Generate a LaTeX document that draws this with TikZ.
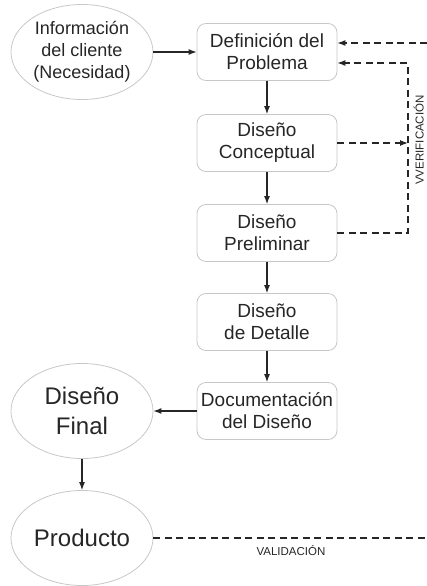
\documentclass[tikz,border=0pt]{standalone}
\usepackage{fontspec}
\setmainfont{Liberation Sans}
\usetikzlibrary{arrows.meta,shapes.geometric}
\begin{document}
\begin{tikzpicture}[x=1pt,y=-1pt,
 box/.style={draw=black!22, line width=0.8pt, rounded corners=9pt, minimum width=140pt, minimum height=57pt, align=center, text=black!85, font=\fontsize{19}{22}\selectfont, inner sep=2pt},
 oval/.style={ellipse, draw=black!22, line width=0.8pt, align=center, text=black!85, minimum width=142pt, minimum height=95pt, inner sep=0pt},
 arr/.style={draw=black!85, line width=1.2pt, -{Latex[length=8pt,width=6pt]}},
 darr/.style={arr, dash pattern=on 7pt off 4.5pt},
 dline/.style={draw=black!85, line width=1.2pt, dash pattern=on 7pt off 4.5pt},
 small/.style={font=\fontsize{11.5}{13}\selectfont, text=black!85}]
\useasboundingbox (0,0) rectangle (427,586);
\node[oval, font=\fontsize{18}{22}\selectfont] (info) at (82,52) {Información\\del cliente\\(Necesidad)};
\node[box] (p1) at (267,52) {Definición del\\Problema};
\node[box] (p2) at (267,143) {Diseño\\Conceptual};
\node[box] (p3) at (267,233) {Diseño\\Preliminar};
\node[box] (p4) at (267,322) {Diseño\\de Detalle};
\node[box] (p5) at (267,411) {Documentación\\del Diseño};
\node[oval, font=\fontsize{24}{30}\selectfont] (fin) at (82,411) {Diseño\\Final};
\node[oval, font=\fontsize{24}{30}\selectfont] (prod) at (82,538) {Producto};

\coordinate (edgeTop) at (427,43);
\coordinate (edgeBot) at (427,538);
\coordinate (vt) at (408,63);
\coordinate (vb) at (408,233);

\draw[arr] (info) -- (p1);
\draw[arr] (p1) -- (p2);
\draw[arr] (p2) -- (p3);
\draw[arr] (p3) -- (p4);
\draw[arr] (p4) -- (p5);
\draw[arr] (p5) -- (fin);
\draw[arr] (fin) -- (prod);

\draw[darr] (edgeTop) -- (edgeTop -| p1.east);
\draw[darr] (p3.east) -- (vb) -- (vt) -- (vt -| p1.east);
\draw[darr] (p2.east) -- (p2.east -| vb);
\draw[dline] (prod) -- (edgeBot);

\node[small, rotate=90, anchor=north] (ver) at (410,140) {VVERIFICACIÓN};
\node[small] (val) at (291,551) {VALIDACIÓN};
\end{tikzpicture}
\end{document}
